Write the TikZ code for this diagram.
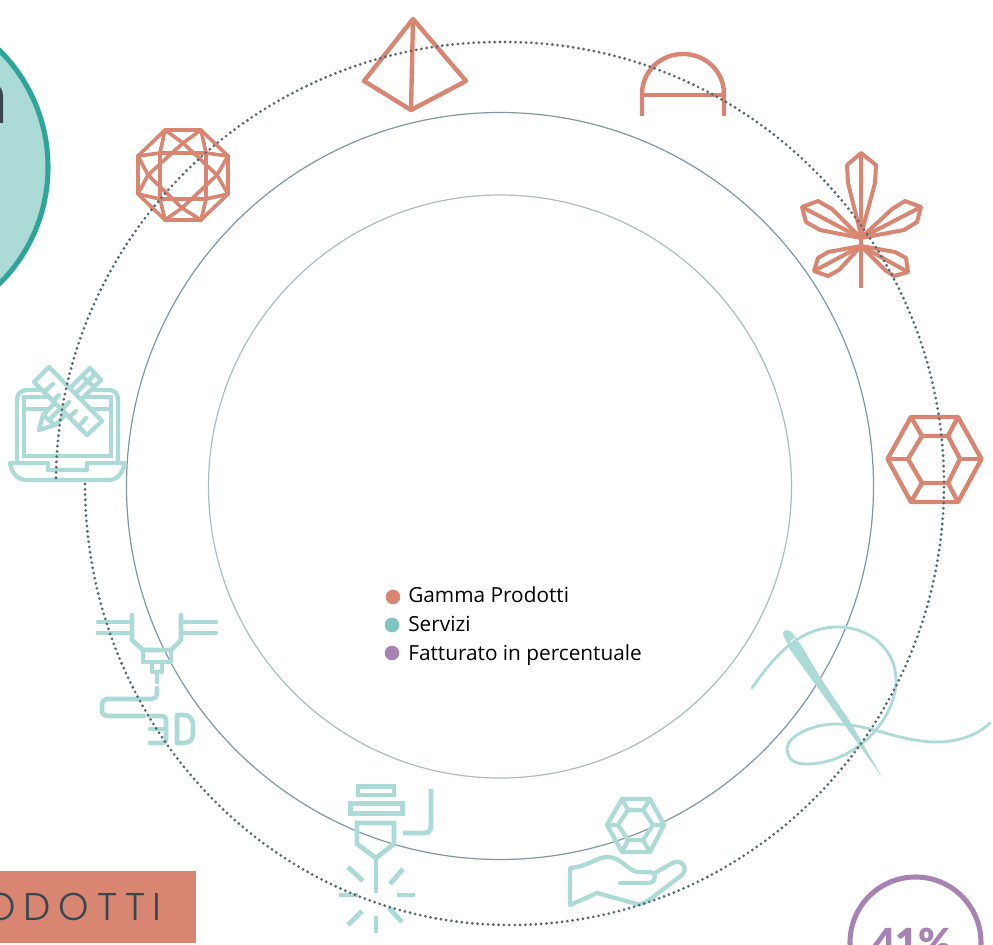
\documentclass[tikz,border=0pt]{standalone}
\usepackage{fontspec}
\setmainfont{Open Sans}
\newfontfamily\brandfont[LetterSpace=20]{Poppins Light}
\newfontfamily\boldfont{Lato Black}
\definecolor{coralc}{HTML}{D88672}
\definecolor{tealc}{HTML}{ACDAD6}
\definecolor{tealdeep}{HTML}{2EA599}
\definecolor{tealdot}{HTML}{7FC4BF}
\definecolor{purplec}{HTML}{A683B2}
\definecolor{darkc}{HTML}{37474F}
\definecolor{dotc}{HTML}{55686F}
\definecolor{ringa}{HTML}{7F98A3}
\definecolor{ringb}{HTML}{A9BDC1}
\tikzset{
  coralicon/.style={draw=coralc,line width=3.3pt,line join=miter,line cap=butt},
  tealicon/.style={draw=tealc,line width=3.2pt,line join=round,line cap=round},
  lasericon/.style={draw=tealc,line width=3.6pt,line join=miter,line cap=butt},
  dotted ring/.style={draw=dotc,line width=2.3pt,line cap=round,dash pattern=on 0pt off 3.95pt},
  legendtext/.style={anchor=base west,inner sep=0pt,font=\fontsize{15.6}{18}\selectfont,text=black},
}
\begin{document}
\begin{tikzpicture}[x=0.75pt,y=-0.75pt]
\useasboundingbox (0,0) rectangle (993,945);
\clip (0,0) rectangle (993,945);
% top-left disc
\draw[draw=tealdeep,fill=tealc,line width=3.8pt] (-116.5,167) circle [radius=164.5];
\node[anchor=base east,inner sep=0pt,text=darkc,font=\fontsize{55}{60}\selectfont] (discword) at (10,124) {n};
% rings
\draw[ringa,line width=0.9pt] (500,486) circle [radius=373.5];
\draw[ringb,line width=0.9pt] (500,486.5) circle [radius=291.5];
% laptop
\draw[tealicon] (17,463) -- (17,400) .. controls (17,394) and (21,390) .. (27,390) -- (109,390) .. controls (115,390) and (118,394) .. (118,400) -- (118,463);
\draw[tealicon,line join=miter] (24,397) rectangle (111,456);
\draw[tealicon] (24,409) -- (111,409);
\draw[tealicon] (10,463) -- (48,463) -- (48,470) -- (87,470) -- (87,463) -- (125,463) .. controls (122,475) and (116,480) .. (108,480) -- (27,480) .. controls (18,480) and (12,474) .. (10,463) -- cycle;
\draw[tealicon,fill=white] (39,430) -- (43,415) -- (90,368) -- (101,380) -- (55,425) -- cycle;
\draw[tealicon] (43,415) -- (55,425);
\draw[tealicon] (49,420) -- (95,374);
\draw[tealicon] (82,376) -- (93,386);
\draw[tealicon,fill=white] (49,367) -- (34,382) -- (87,435) -- (102,421) -- cycle;
\draw[tealicon] (44,392) -- (53,384);
\draw[tealicon] (53,401) -- (59,395);
\draw[tealicon] (62,410) -- (69,402);
\draw[tealicon] (69,417) -- (76,411);
\draw[tealicon] (79,426) -- (86,418);
% octagon gem
\begin{scope}[coralicon,line width=2.7pt]
\draw (165,130) -- (201,130) -- (228,156) -- (228,194) -- (201,220) -- (165,220) -- (138,194) -- (138,156) -- cycle;
\draw (160,153) rectangle (206,199);
\draw (138,156) -- (160,153) -- (165,130);
\draw (201,130) -- (206,153) -- (228,156);
\draw (228,194) -- (206,199) -- (201,220);
\draw (138,194) -- (160,199) -- (165,220);
\draw (201,130) -- (183,143) -- (148,175) -- (138,194);
\draw (165,130) -- (183,143) -- (217,175) -- (228,194);
\draw (138,156) -- (148,175) -- (182,208) -- (201,220);
\draw (228,156) -- (217,175) -- (182,208) -- (165,220);
\end{scope}
% pyramid
\draw[coralicon,line join=round] (413,19) -- (364,81) -- (411,110) -- (466,81) -- cycle;
\draw[coralicon] (413,19) -- (411,110);
% arch
\draw[coralicon] (642,116) -- (642,94) .. controls (642,71.4) and (660.4,54) .. (683,54) .. controls (705.6,54) and (724,71.4) .. (724,94) -- (724,116);
\draw[coralicon] (642,95) -- (724,95);
% leaf
\begin{scope}[coralicon,line width=3pt,line join=round]
\draw (861,153) -- (847,165) -- (848,183) -- (861,235) -- (875,183) -- (876,165) -- cycle;
\draw (861,153) -- (861,288);
\draw (802,207) -- (818,201) -- (832,209) -- (861,238) -- (820,230) -- (806,222) -- cycle;
\draw (802,207) -- (861,238);
\draw (921,207) -- (905,201) -- (892,209) -- (861,238) -- (904,230) -- (917,222) -- cycle;
\draw (921,207) -- (861,238);
\draw (814,271) -- (828,276) -- (839,270) -- (861,246) -- (828,252) -- (818,258) -- cycle;
\draw (814,271) -- (861,246);
\draw (908,272) -- (894,276) -- (885,270) -- (861,246) -- (895,252) -- (906,258) -- cycle;
\draw (908,272) -- (861,246);
\end{scope}
% hexagon gem
\begin{scope}[coralicon,line join=round]
\draw (887.5,459) -- (911,417) -- (958,417) -- (981.5,459) -- (958,502) -- (911,502) -- cycle;
\draw (908,459) -- (922,436) -- (948,436) -- (960,459) -- (948,483) -- (922,483) -- cycle;
\draw (887,459) -- (908,459);
\draw (911,417) -- (922,436);
\draw (958,417) -- (948,436);
\draw (982,459) -- (960,459);
\draw (958,502) -- (948,483);
\draw (911,502) -- (922,483);
\end{scope}
% 3D printer
\begin{scope}[tealicon,line width=3.4pt]
\draw (98,622) -- (132,622);
\draw (98,633) -- (132,633);
\draw (132,615) -- (132,640) -- (143,650) -- (171,650) -- (181,640) -- (181,615);
\draw (181,622) -- (216,622);
\draw (181,633) -- (216,633);
\draw (143,650) -- (143,662) -- (171,662) -- (171,650);
\draw (152,662) -- (152,672) -- (162,672) -- (162,662);
\draw (157,672) -- (157,682);
\draw (157,688) -- (157,694) .. controls (157,697) and (155,699) .. (152,699) -- (107,699) .. controls (104,699) and (102,701) .. (102,704) -- (102,710) .. controls (102,714) and (104,716) .. (107,716) -- (144,716);
\draw (150,716) -- (162,716) .. controls (165,716) and (166,718) .. (166,720) -- (166,739) .. controls (166,742) and (165,743) .. (162,743) -- (150,743);
\draw (150,729) -- (166,729);
\draw (177,715) -- (184,715) .. controls (190,715) and (193,720) .. (193,725) -- (193,733) .. controls (193,739) and (190,743) .. (184,743) -- (177,743) -- cycle;
\end{scope}
% laser
\begin{scope}[lasericon]
\draw (358,786.5) rectangle (394,795);
\draw (350.5,803.5) rectangle (402.5,813.5);
\draw (357,823) -- (394,823) -- (394,844) -- (376,858) -- (357,844) -- cycle;
\draw (376,858) -- (376,893);
\draw (348,867) -- (363,881);
\draw (403,869) -- (390,884);
\draw (339,895) -- (358,895);
\draw (397,895) -- (415,895);
\draw (362,911) -- (348,925);
\draw (389,908) -- (402,922);
\draw (376,916) -- (376,933);
\draw (431,789) -- (431,825) .. controls (431,830) and (429,833) .. (424,833) -- (403,833);
\end{scope}
% hand and gem
\begin{scope}[tealicon,line width=3.2pt]
\draw (622,799) -- (650,799) -- (664,825) -- (650,852) -- (622,852) -- (607,825) -- cycle;
\draw (628,810) -- (643,810) -- (653,825) -- (643,840) -- (628,840) -- (618,825) -- cycle;
\draw (622,799) -- (628,810);
\draw (650,799) -- (643,810);
\draw (664,825) -- (653,825);
\draw (650,852) -- (643,840);
\draw (622,852) -- (628,840);
\draw (607,825) -- (618,825);
\draw (620,883) -- (648,883) .. controls (653,883) and (655,880) .. (655,877) .. controls (655,873) and (652,872) .. (648,872) -- (637,872) .. controls (628,870) and (620,857) .. (608,857) .. controls (596,857) and (590,866) .. (570,868) -- (570,905) -- (597,893) -- (637,904) .. controls (642,905) and (645,902) .. (649,900) -- (682,875) .. controls (687,871) and (685,862) .. (678,862) .. controls (674,861) and (664,868) .. (655,873);
\end{scope}
% needle
\path[fill=tealc] (783,633) .. controls (783,629) and (790,629) .. (793,634) -- (803,648) -- (820,677) -- (851,723) -- (882,777) -- (846,727) -- (789,648) .. controls (788,642) and (783,638) .. (783,633) -- cycle;
\path[fill=white,rotate around={55:(792,642)}] (792,642) ellipse [x radius=5, y radius=1.5];
\draw[draw=tealc,line width=2.1pt,line cap=round] (752,688) .. controls (775,655) and (800,627) .. (838,627) .. controls (870,627) and (896,650) .. (896,680) .. controls (896,720) and (855,764) .. (806,764) .. controls (790,764) and (787,755) .. (787,748) .. controls (788,735) and (815,724) .. (835,724) .. controls (870,724) and (900,742) .. (937,742) .. controls (958,742) and (978,735) .. (990,723);
% label box
\path[fill=coralc] (0,871) rectangle (196,943);
\node[anchor=base east,inner sep=0pt,text=darkc,font=\brandfont\fontsize{29}{34}\selectfont] (brand) at (162,920) {PRODOTTI};
% percentage circle
\draw[draw=purplec,line width=3.8pt,fill=white] (915.5,942.5) circle [radius=65.5];
\node[anchor=base,inner sep=0pt,text=purplec,font=\boldfont\fontsize{30}{34}\selectfont] (pct) at (912,957) {41\%};
% legend
\path[fill=coralc] (393,597) circle [radius=7.3];
\path[fill=tealdot] (392,625) circle [radius=7.3];
\path[fill=purplec] (392,653) circle [radius=7.3];
\node[legendtext] (lega) at (408,602.5) {Gamma Prodotti};
\node[legendtext] (legb) at (408,631.5) {Servizi};
\node[legendtext] (legc) at (408,660) {Fatturato in percentuale};
% dotted ring
\draw[dotted ring] (500,42) .. controls (254.8,42) and (56,239.9) .. (56,482);
\draw[dotted ring] (85,484) .. controls (85,727.6) and (275.3,925) .. (510,925);
\draw[dotted ring] (505,42) .. controls (747.4,42) and (944,239.9) .. (944,484) .. controls (944,727.6) and (750,925) .. (510,925);
\end{tikzpicture}
\end{document}
